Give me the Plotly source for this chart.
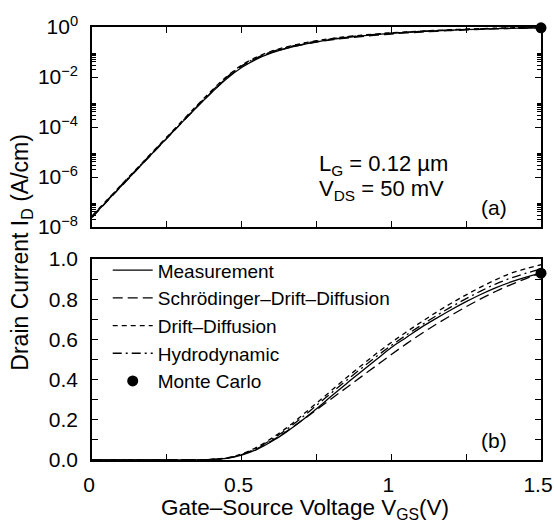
import plotly.graph_objects as go

# ---------------- data ----------------
vgs = [0.00, 0.05, 0.10, 0.15, 0.20, 0.25, 0.30, 0.35, 0.40, 0.45,
       0.50, 0.55, 0.60, 0.65, 0.70, 0.75, 0.80, 0.85, 0.90, 0.95,
       1.00, 1.05, 1.10, 1.15, 1.20, 1.25, 1.30, 1.35, 1.40, 1.45, 1.50]

measurement = [2.5e-8, 1.1e-7, 4.7e-7, 2.0e-6, 8.5e-6, 3.6e-5, 1.5e-4, 6.2e-4, 2.4e-3, 8.5e-3,
               0.024, 0.052, 0.092, 0.14, 0.195, 0.255, 0.318, 0.38, 0.44, 0.50,
               0.56, 0.61, 0.66, 0.705, 0.748, 0.788, 0.825, 0.858, 0.886, 0.91, 0.93]

schroedinger_dd = [2.4e-8, 1.05e-7, 4.5e-7, 1.95e-6, 8.3e-6, 3.5e-5, 1.5e-4, 6.3e-4, 2.5e-3, 9.2e-3,
                   0.027, 0.056, 0.096, 0.143, 0.195, 0.25, 0.305, 0.36, 0.415, 0.47,
                   0.525, 0.578, 0.628, 0.676, 0.72, 0.763, 0.803, 0.84, 0.873, 0.903, 0.93]

drift_diffusion = [2.8e-8, 1.2e-7, 5.2e-7, 2.2e-6, 9.5e-6, 4.0e-5, 1.7e-4, 7.2e-4, 2.9e-3, 0.0105,
                   0.030, 0.063, 0.108, 0.16, 0.22, 0.283, 0.346, 0.41, 0.47, 0.53,
                   0.585, 0.637, 0.687, 0.735, 0.78, 0.822, 0.862, 0.898, 0.93, 0.952, 0.972]

hydrodynamic = [2.6e-8, 1.15e-7, 5.0e-7, 2.1e-6, 9.0e-6, 3.8e-5, 1.6e-4, 6.8e-4, 2.7e-3, 9.8e-3,
                0.028, 0.059, 0.102, 0.152, 0.21, 0.272, 0.334, 0.396, 0.456, 0.515,
                0.57, 0.622, 0.671, 0.718, 0.762, 0.803, 0.842, 0.877, 0.906, 0.93, 0.95]

mc_vgs = [1.5]
mc_id = [0.93]

series_names = ["Measurement", "Schrödinger–Drift–Diffusion", "Drift–Diffusion", "Hydrodynamic"]
series_data = [measurement, schroedinger_dd, drift_diffusion, hydrodynamic]
series_dash = ["solid", "10px,5px", "5px,4px", "9px,4px,2px,4px"]

log_tickvals = [1e-8, 1e-6, 1e-4, 1e-2, 1e0]
log_ticktext = ["10<sup>−8</sup>", "10<sup>−6</sup>", "10<sup>−4</sup>", "10<sup>−2</sup>", "10<sup>0</sup>"]
log_minor = [k * 10.0 ** e for e in (-8, -6, -4, -2) for k in (2, 3, 4, 5, 6, 7, 8, 9)]

x_tickvals = [0, 0.5, 1, 1.5]
x_ticktext = ["0", "0.5", "1", "1.5"]
lin_tickvals = [0.0, 0.2, 0.4, 0.6, 0.8, 1.0]
lin_ticktext = ["0.0", "0.2", "0.4", "0.6", "0.8", "1.0"]

FONT = "Arial, Liberation Sans, sans-serif"
FS = 21

fig = go.Figure()

for name, ys, dash in zip(series_names, series_data, series_dash):
    fig.add_trace(go.Scatter(x=vgs, y=ys, mode="lines", name=name, showlegend=False,
                             line=dict(color="black", width=1.3, dash=dash, shape="spline"),
                             xaxis="x", yaxis="y"))
fig.add_trace(go.Scatter(x=mc_vgs, y=mc_id, mode="markers", showlegend=False,
                         marker=dict(color="black", size=11), cliponaxis=False,
                         xaxis="x", yaxis="y"))

for name, ys, dash in zip(series_names, series_data, series_dash):
    fig.add_trace(go.Scatter(x=vgs, y=ys, mode="lines", name=name,
                             line=dict(color="black", width=1.3, dash=dash, shape="spline"),
                             xaxis="x2", yaxis="y2"))
fig.add_trace(go.Scatter(x=mc_vgs, y=mc_id, mode="markers", name="Monte Carlo",
                         marker=dict(color="black", size=11), cliponaxis=False,
                         xaxis="x2", yaxis="y2"))

axis_common = dict(showline=True, linecolor="black", linewidth=1.5, ticks="inside",
                   tickcolor="black", ticklen=6, tickwidth=1.2, showgrid=False, zeroline=False,
                   automargin=False,
                   tickfont=dict(family=FONT, size=FS, color="black"))

fig.update_layout(
    width=554, height=522,
    margin=dict(l=92, r=13, t=27, b=62, autoexpand=False),
    paper_bgcolor="white", plot_bgcolor="white",
    font=dict(family=FONT, size=FS, color="black"),
    xaxis=dict(domain=[0, 1], range=[0, 1.5], anchor="y", mirror="ticks",
               tickvals=[0.25, 0.5, 0.75, 1.0, 1.25], showticklabels=False, **axis_common),
    yaxis=dict(domain=[0.538, 1], type="log", range=[-8, 0], anchor="x", mirror="ticks",
               tickvals=log_tickvals, ticktext=log_ticktext, ticklabelstandoff=8,
               minor=dict(tickvals=log_minor, ticks="inside", ticklen=4, tickcolor="black", tickwidth=1),
               **axis_common),
    xaxis2=dict(domain=[0, 1], range=[0, 1.5], anchor="y2", mirror=True,
                tickvals=x_tickvals, ticktext=x_ticktext, ticklabelstandoff=5,
                ticklabeloverflow="allow", ticklabelshift=-3,
                minor=dict(dtick=0.25, ticks="inside", ticklen=6, tickcolor="black", tickwidth=1.2),
                **axis_common),
    yaxis2=dict(domain=[0, 0.464], range=[0, 1.0], anchor="x2", mirror="ticks",
                tickvals=lin_tickvals, ticktext=lin_ticktext, ticklabelstandoff=8,
                minor=dict(dtick=0.1, ticks="inside", ticklen=6, tickcolor="black", tickwidth=1.2),
                **axis_common),
    legend=dict(x=0.035, y=0.482, xanchor="left", yanchor="top", bgcolor="rgba(0,0,0,0)",
                font=dict(family=FONT, size=19, color="black"), tracegroupgap=0,
                itemwidth=40),
    showlegend=True,
)

ann_font = dict(family=FONT, size=22, color="black")
fig.add_annotation(x=0.50, xref="paper", y=0.681, yref="paper", xanchor="left", yanchor="middle",
                   text="L<sub>G</sub> = 0.12 µm", showarrow=False, font=ann_font)
fig.add_annotation(x=0.50, xref="paper", y=0.624, yref="paper", xanchor="left", yanchor="middle",
                   text="V<sub>DS</sub> = 50 mV", showarrow=False, font=ann_font)
fig.add_annotation(x=0.895, xref="paper", y=0.584, yref="paper", xanchor="center", yanchor="middle",
                   text="(a)", showarrow=False, font=dict(family=FONT, size=21, color="black"))
fig.add_annotation(x=0.895, xref="paper", y=0.046, yref="paper", xanchor="center", yanchor="middle",
                   text="(b)", showarrow=False, font=dict(family=FONT, size=21, color="black"))
fig.add_annotation(x=-0.156, xref="paper", y=0.481, yref="paper", xanchor="center", yanchor="middle",
                   textangle=-90, text="Drain Current I<sub>D</sub> (A/cm)", showarrow=False,
                   font=dict(family=FONT, size=23, color="black"))
fig.add_annotation(x=0.474, xref="paper", y=-0.114, yref="paper", xanchor="center", yanchor="middle",
                   text="Gate–Source Voltage V<sub>GS</sub>(V)", showarrow=False,
                   font=dict(family=FONT, size=22.5, color="black"))

fig.write_html("out.html", config={"displayModeBar": False},
               post_script="document.body.style.margin='0px';")
